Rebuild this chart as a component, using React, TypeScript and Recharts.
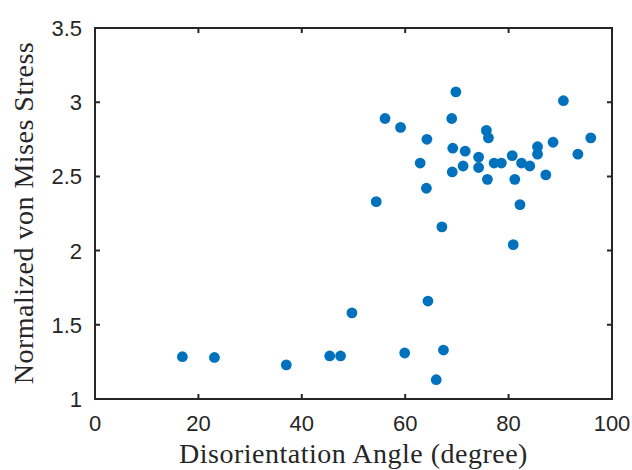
import { ScatterChart, Scatter, XAxis, YAxis, ReferenceArea } from 'recharts';

// Values
const angle = [
  69.8, 90.6, 56.1, 59.1, 69.0, 75.7, 76.1, 64.2, 95.9, 88.6,
  69.2, 71.6, 85.6, 85.6, 93.4, 62.9, 74.2, 80.7, 71.2, 74.2,
  77.2, 78.6, 82.5, 84.1, 69.1, 87.2, 75.9, 81.2, 64.1, 54.4,
  82.2, 67.1, 80.9,
  16.9, 23.1, 37.0, 45.4, 47.5, 49.7,
  64.4, 59.9, 67.4, 66.0,
];
const stress = [
  3.07, 3.01, 2.89, 2.83, 2.89, 2.81, 2.76, 2.75, 2.76, 2.73,
  2.69, 2.67, 2.70, 2.65, 2.65, 2.59, 2.63, 2.64, 2.57, 2.56,
  2.59, 2.59, 2.59, 2.57, 2.53, 2.51, 2.48, 2.48, 2.42, 2.33,
  2.31, 2.16, 2.04,
  1.285, 1.28, 1.23, 1.29, 1.29, 1.58,
  1.66, 1.31, 1.33, 1.13,
];
const xTicks = [0, 20, 40, 60, 80, 100];
const yTicks = [1, 1.5, 2, 2.5, 3, 3.5];

const points = angle.map((a, i) => ({ angle: a, stress: stress[i] }));

const ink = '#262626';
const dotColor = '#0072BD';
const W = 632;
const H = 470;
const M = { top: 28, right: 20, bottom: 0, left: 0 };
const Y_AXIS_W = 95;
const X_AXIS_H = 71;
const plotTop = M.top;
const plotRight = W - M.right;
const TICK = 5;

const tickFont = { fontFamily: '"Liberation Sans", Arial, sans-serif', fontSize: 22, fill: ink };
const labelFont = { fontFamily: '"Liberation Serif", "Times New Roman", serif', fontSize: 28, fill: ink, letterSpacing: 0.5 };

// axis lines/tick lines don't show here, so ticks are drawn as paths (inside, mirrored on top/right)
const XTick = ({ x, y, payload }: any) => (
  <g>
    <path d={`M${x},${y}v${-TICK}M${x},${plotTop}v${TICK}`} stroke={ink} strokeWidth={2} />
    <text x={x} y={y + 31.5} textAnchor="middle" style={tickFont}>
      {payload.value}
    </text>
  </g>
);

const YTick = ({ x, y, payload }: any) => (
  <g>
    <path d={`M${x},${y}h${TICK}M${plotRight},${y}h${-TICK}`} stroke={ink} strokeWidth={2} />
    <text x={x - 13} y={y} dy="0.36em" textAnchor="end" style={tickFont}>
      {payload.value}
    </text>
  </g>
);

const Dot = ({ cx, cy }: any) => <circle cx={cx} cy={cy} r={5.4} fill={dotColor} />;

export default function App() {
  return (
    <div style={{ position: 'absolute', left: 0, top: 0, background: '#fff' }}>
      <ScatterChart width={W} height={H} margin={M}>
        <XAxis
          type="number"
          dataKey="angle"
          domain={[0, 100]}
          ticks={xTicks}
          height={X_AXIS_H}
          tickSize={0}
          tickMargin={0}
          axisLine={false}
          tickLine={false}
          tick={<XTick />}
          label={{
            content: ({ viewBox }: any) => (
              <text x={viewBox.x + viewBox.width / 2} y={463} textAnchor="middle" style={labelFont}>
                Disorientation Angle (degree)
              </text>
            ),
          }}
        />
        <YAxis
          type="number"
          dataKey="stress"
          domain={[1, 3.5]}
          ticks={yTicks}
          width={Y_AXIS_W}
          tickSize={0}
          tickMargin={0}
          axisLine={false}
          tickLine={false}
          tick={<YTick />}
          label={{
            content: () => (
              <text x={33} y={213} transform="rotate(-90, 33, 213)" textAnchor="middle" style={labelFont}>
                Normalized von Mises Stress
              </text>
            ),
          }}
        />
        <ReferenceArea x1={0} x2={100} y1={1} y2={3.5} fill="none" fillOpacity={0} stroke={ink} strokeWidth={2} strokeOpacity={1} />
        <Scatter data={points} fill={dotColor} shape={<Dot />} isAnimationActive={false} />
      </ScatterChart>
    </div>
  );
}
